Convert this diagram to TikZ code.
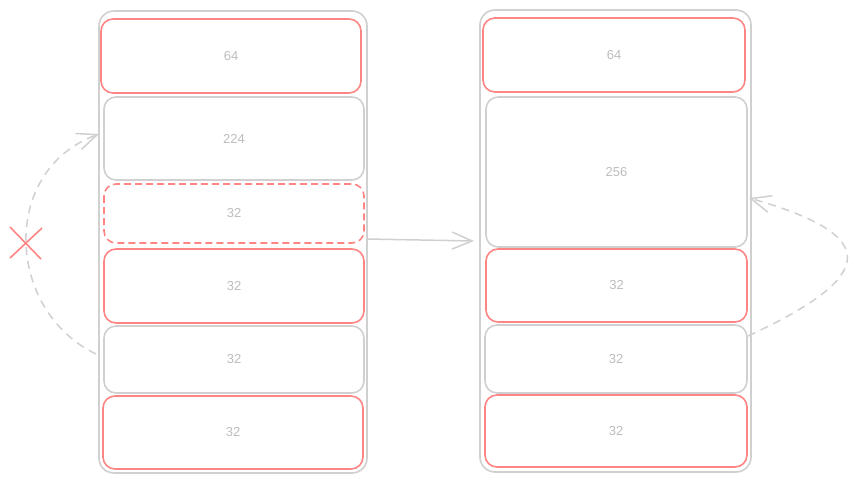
\documentclass[tikz,border=0pt]{standalone}
\usepackage{fontspec}
\setmainfont{Liberation Sans}
\usetikzlibrary{arrows.meta,calc}
\definecolor{sred}{HTML}{FF8585}
\definecolor{sgray}{HTML}{D0D0D0}
\definecolor{tgray}{HTML}{BDBDBD}
\begin{document}
\begin{tikzpicture}[x=1pt,y=-1pt,
  container/.style={draw=sgray,line width=1.6pt,rounded corners=15pt},
  block/.style={line width=1.6pt,rounded corners=12pt,font=\fontsize{13}{15}\selectfont,text=tgray},
  redblk/.style={block,draw=sred},
  grayblk/.style={block,draw=sgray},
  dashblk/.style={block,draw=sred,dashed,dash pattern=on 7pt off 4pt},
  conn/.style={draw=sgray,line width=1.5pt,-{Straight Barb[length=20pt,width=17pt]}},
  dconn/.style={conn,dash pattern=on 8pt off 6pt}]
\useasboundingbox (0,0) rectangle (856,483);
% left container
\draw[container] (99,11) rectangle (367,473);
\node[coordinate] (lc) at (367,239) {};
\draw[redblk] (101,19) rectangle node (l1) {64} (361,93);
\draw[grayblk] (104,97) rectangle node (l2) {224} (364,180);
\draw[dashblk] (104,184) rectangle node (l3) {32} (364,243);
\draw[redblk] (104,249) rectangle node (l4) {32} (364,323);
\draw[grayblk] (104,326) rectangle node (l5) {32} (364,393);
\draw[redblk] (103,396) rectangle node (l6) {32} (363,469);
% right container
\draw[container] (480,10) rectangle (751,472);
\draw[redblk] (483,18) rectangle node (r1) {64} (745,92);
\draw[grayblk] (486,97) rectangle node (r2) {256} (747,247);
\draw[redblk] (486,249) rectangle node (r3) {32} (747,322);
\draw[grayblk] (485,325) rectangle node (r4) {32} (747,393);
\draw[redblk] (485,395) rectangle node (r5) {32} (747,467);
% connectors
\coordinate (rin) at (474,241);
\draw[conn] (lc) -- (rin);
\coordinate (ls) at (96,354);
\coordinate (le) at (99,134);
\draw[dconn] (ls) .. controls (5,310) and (0,170) .. (le);
\coordinate (rs) at (748,336);
\coordinate (re) at (749,198);
\draw[dconn] (rs) .. controls (880,275) and (880,235) .. (re);
% red cross
\coordinate (x) at (26,243);
\draw[sred,line width=1.6pt] ($(x)+(-16,-16)$) -- ($(x)+(15,16)$);
\draw[sred,line width=1.6pt] ($(x)+(-16,15)$) -- ($(x)+(16,-15)$);
\end{tikzpicture}
\end{document}
